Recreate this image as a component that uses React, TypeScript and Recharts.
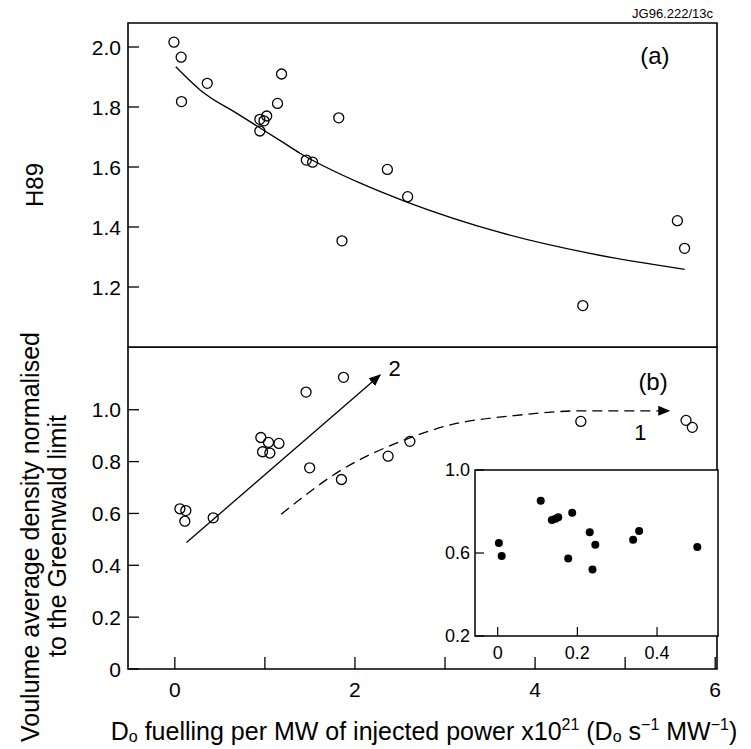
import { ComposedChart, ScatterChart, Scatter, Line, XAxis, YAxis, ReferenceArea, ReferenceDot } from 'recharts';

// panel (a): H89 against fuelling
const h89X = [-0.01, 0.07, 0.074, 0.36, 0.944, 1.02, 0.99, 0.944, 1.14, 1.185, 1.46, 1.53, 1.82, 1.856, 2.36, 2.585, 4.53, 5.58, 5.66];
const h89Y = [2.016, 1.966, 1.818, 1.879, 1.759, 1.77, 1.754, 1.72, 1.812, 1.91, 1.623, 1.616, 1.764, 1.354, 1.592, 1.501, 1.138, 1.421, 1.329];
const fitX = [0.01, 0.28, 0.72, 1.17, 1.39, 2.06, 2.57, 3.61, 4.61, 5.66];
const fitY = [1.934, 1.857, 1.773, 1.688, 1.646, 1.546, 1.484, 1.382, 1.312, 1.259];

// panel (b): density / Greenwald limit
const densX = [0.056, 0.122, 0.111, 0.426, 0.955, 1.04, 0.974, 1.055, 1.156, 1.457, 1.873, 1.497, 1.85, 2.368, 2.61, 4.508, 5.676, 5.746];
const densY = [0.618, 0.611, 0.57, 0.583, 0.893, 0.874, 0.838, 0.833, 0.87, 1.068, 1.125, 0.776, 0.731, 0.821, 0.878, 0.955, 0.959, 0.932];
const path2X = [0.13, 2.28];
const path2Y = [0.488, 1.134];
const path1X = [1.18, 1.86, 2.56, 3.0, 3.87, 4.53, 5.49];
const path1Y = [0.597, 0.77, 0.885, 0.936, 0.981, 0.996, 0.996];

// inset
const insetX = [0.003, 0.01, 0.108, 0.136, 0.145, 0.152, 0.187, 0.177, 0.231, 0.245, 0.238, 0.34, 0.355, 0.501];
const insetY = [0.648, 0.586, 0.852, 0.759, 0.765, 0.772, 0.794, 0.574, 0.7, 0.64, 0.521, 0.664, 0.706, 0.629];

const xTicks = [0, 1, 2, 3, 4, 5, 6];
const xLabels = ['0', '', '2', '', '4', '', '6'];
const h89Ticks = [1.2, 1.4, 1.6, 1.8, 2.0];
const densTicks = [0, 0.2, 0.4, 0.6, 0.8, 1.0];
const insetXTicks = [0, 0.2, 0.4];
const insetYTicks = [0.2, 0.6, 1.0];

const zip = (xs: number[], ys: number[]) => xs.map((x, i) => ({ x, y: ys[i] }));
const h89Data = zip(h89X, h89Y);
const fitData = zip(fitX, fitY);
const densData = zip(densX, densY);
const path2Data = zip(path2X, path2Y);
const path1Data = zip(path1X, path1Y);
const insetData = zip(insetX, insetY);

const FONT = '"Liberation Sans", Arial, Helvetica, sans-serif';
const X_DOM: [number, number] = [-0.52, 6.02];
const fmt = (v: number) => (v === 0 ? '0' : v.toFixed(1));

const YTick = (p: any) => (
    <g>
        <line x1={p.x + 7} x2={p.x + 18} y1={p.y} y2={p.y} stroke="#000" strokeWidth={1.3} />
        <text x={p.x} y={p.y} textAnchor="end" dominantBaseline="central" fontSize={21} fontFamily={FONT} fill="#000">
            {fmt(p.payload.value)}
        </text>
    </g>
);

const XTick = (p: any) => {
    const i = xTicks.indexOf(p.payload.value);
    return (
        <g>
            <line x1={p.x} x2={p.x} y1={p.y - 20} y2={p.y - 32} stroke="#000" strokeWidth={1.3} />
            <text x={p.x} y={p.y} textAnchor="middle" dominantBaseline="central" fontSize={21} fontFamily={FONT} fill="#000">
                {xLabels[i]}
            </text>
        </g>
    );
};

const InsetYTick = (p: any) => (
    <g>
        <line x1={p.x + 5} x2={p.x + 14} y1={p.y} y2={p.y} stroke="#000" strokeWidth={1.2} />
        <text x={p.x} y={p.y} textAnchor="end" dominantBaseline="central" fontSize={18} fontFamily={FONT} fill="#000">
            {p.payload.value.toFixed(1)}
        </text>
    </g>
);

const InsetXTick = (p: any) => (
    <g>
        <line x1={p.x} x2={p.x} y1={p.y - 17} y2={p.y - 26} stroke="#000" strokeWidth={1.2} />
        <text x={p.x} y={p.y} textAnchor="middle" dominantBaseline="central" fontSize={18} fontFamily={FONT} fill="#000">
            {p.payload.value === 0 ? '0' : p.payload.value.toFixed(1)}
        </text>
    </g>
);

const OpenCircle = (p: any) => <circle cx={p.cx} cy={p.cy} r={5} fill="none" stroke="#000" strokeWidth={1.3} />;
const FilledDot = (p: any) => <circle cx={p.cx} cy={p.cy} r={4} fill="#000" />;

const textLabel = (value: string, size: number) => ({
    value,
    position: 'center' as const,
    fontSize: size,
    fontFamily: FONT,
    fill: '#000',
});

const H89Title = () => (
    <text x={34} y={185} transform="rotate(-90 34 185)" textAnchor="middle" dominantBaseline="central" fontSize={24} fontFamily={FONT} fill="#000">
        H89
    </text>
);

const XTitle = () => (
    <text x={424} y={384} textAnchor="middle" dominantBaseline="central" fontSize={25} fontFamily={FONT} fill="#000">
        D<tspan dy={5} fontSize={16}>o</tspan>
        <tspan dy={-5}> fuelling per MW of injected power x10</tspan>
        <tspan dy={-7} fontSize={16}>21</tspan>
        <tspan dy={7}> (D</tspan>
        <tspan dy={5} fontSize={16}>o</tspan>
        <tspan dy={-5}> s</tspan>
        <tspan dy={-7} fontSize={16}>−1</tspan>
        <tspan dy={7}> MW</tspan>
        <tspan dy={-7} fontSize={16}>−1</tspan>
        <tspan dy={7}>)</tspan>
    </text>
);

export default function App() {
    return (
        <div style={{ position: 'absolute', left: 0, top: 0, width: 751, height: 749, background: '#fff', fontFamily: FONT }}>
            <div style={{ position: 'absolute', left: 0, top: 0 }}>
                <ComposedChart width={751} height={350} margin={{ top: 23, right: 34, bottom: 3, left: 0 }}>
                    <XAxis type="number" dataKey="x" domain={X_DOM} hide allowDataOverflow />
                    <YAxis
                        type="number"
                        dataKey="y"
                        domain={[1.0, 2.08]}
                        ticks={h89Ticks}
                        width={128}
                        axisLine={false}
                        tickLine={false}
                        tickSize={0}
                        tickMargin={7}
                        tick={<YTick />}
                        allowDataOverflow
                        label={{ content: <H89Title /> }}
                    />
                    <ReferenceArea x1={X_DOM[0]} x2={X_DOM[1]} y1={1.0} y2={2.08} fill="none" stroke="#000" strokeWidth={1.6} />
                    <Line data={fitData} dataKey="y" type="monotone" stroke="#000" strokeWidth={1.3} dot={false} isAnimationActive={false} />
                    <Scatter data={h89Data} dataKey="y" shape={<OpenCircle />} isAnimationActive={false} />
                    <ReferenceDot x={5.33} y={1.973} r={0} fill="none" stroke="none" label={textLabel('(a)', 24)} />
                </ComposedChart>
                <svg width={751} height={24} style={{ position: 'absolute', left: 0, top: 0 }}>
                    <text x={713} y={13} textAnchor="end" dominantBaseline="central" fontSize={13} fontFamily={FONT} fill="#000">
                        JG96.222/13c
                    </text>
                </svg>
            </div>
            <div style={{ position: 'absolute', left: 0, top: 347 }}>
                <ComposedChart width={751} height={402} margin={{ top: 0, right: 34, bottom: 0, left: 0 }}>
                    <defs>
                        <marker id="ahead" viewBox="0 0 12 10" refX={11} refY={5} markerWidth={12} markerHeight={10} markerUnits="userSpaceOnUse" orient="auto">
                            <path d="M0,0 L12,5 L0,10 z" fill="#000" />
                        </marker>
                    </defs>
                    <XAxis
                        type="number"
                        dataKey="x"
                        domain={X_DOM}
                        ticks={xTicks}
                        height={80}
                        axisLine={false}
                        tickLine={false}
                        tickSize={0}
                        tickMargin={20}
                        tick={<XTick />}
                        allowDataOverflow
                        label={{ content: <XTitle /> }}
                    />
                    <YAxis
                        type="number"
                        dataKey="y"
                        domain={[0, 1.242]}
                        ticks={densTicks}
                        width={128}
                        axisLine={false}
                        tickLine={false}
                        tickSize={0}
                        tickMargin={7}
                        tick={<YTick />}
                        allowDataOverflow
                    />
                    <ReferenceArea x1={X_DOM[0]} x2={X_DOM[1]} y1={0} y2={1.242} fill="none" stroke="#000" strokeWidth={1.6} />
                    <Line data={path2Data} dataKey="y" type="linear" stroke="#000" strokeWidth={1.3} dot={false} markerEnd="url(#ahead)" isAnimationActive={false} />
                    <Line data={path1Data} dataKey="y" type="monotone" stroke="#000" strokeWidth={1.3} strokeDasharray="10 6" dot={false} markerEnd="url(#ahead)" isAnimationActive={false} />
                    <Scatter data={densData} dataKey="y" shape={<OpenCircle />} isAnimationActive={false} />
                    <ReferenceDot x={5.31} y={1.109} r={0} fill="none" stroke="none" label={textLabel('(b)', 24)} />
                    <ReferenceDot x={2.44} y={1.16} r={0} fill="none" stroke="none" label={textLabel('2', 22)} />
                    <ReferenceDot x={5.17} y={0.914} r={0} fill="none" stroke="none" label={textLabel('1', 22)} />
                </ComposedChart>
            </div>
            <div style={{ position: 'absolute', left: 430, top: 460 }}>
                <ScatterChart width={300} height={206} margin={{ top: 10, right: 12, bottom: 0, left: 0 }}>
                    <XAxis
                        type="number"
                        dataKey="x"
                        domain={[-0.057, 0.553]}
                        ticks={insetXTicks}
                        height={30}
                        axisLine={false}
                        tickLine={false}
                        tickSize={0}
                        tickMargin={17}
                        tick={<InsetXTick />}
                        allowDataOverflow
                    />
                    <YAxis
                        type="number"
                        dataKey="y"
                        domain={[0.2, 1.0]}
                        ticks={insetYTicks}
                        width={45}
                        axisLine={false}
                        tickLine={false}
                        tickSize={0}
                        tickMargin={5}
                        tick={<InsetYTick />}
                        allowDataOverflow
                    />
                    <ReferenceArea x1={-0.057} x2={0.553} y1={0.2} y2={1.0} fill="#fff" fillOpacity={1} stroke="#000" strokeWidth={1.5} />
                    <Scatter data={insetData} shape={<FilledDot />} isAnimationActive={false} />
                </ScatterChart>
            </div>
            {/* two-line title of the lower panel, spans above the panel top */}
            <svg width={80} height={749} style={{ position: 'absolute', left: 0, top: 0, pointerEvents: 'none' }}>
                <g fontFamily={FONT} fontSize={25} fill="#000">
                    <text x={30} y={537} transform="rotate(-90 30 537)" textAnchor="middle" dominantBaseline="central">
                        Voulume average density normalised
                    </text>
                    <text x={57} y={536} transform="rotate(-90 57 536)" textAnchor="middle" dominantBaseline="central">
                        to the Greenwald limit
                    </text>
                </g>
            </svg>
        </div>
    );
}
